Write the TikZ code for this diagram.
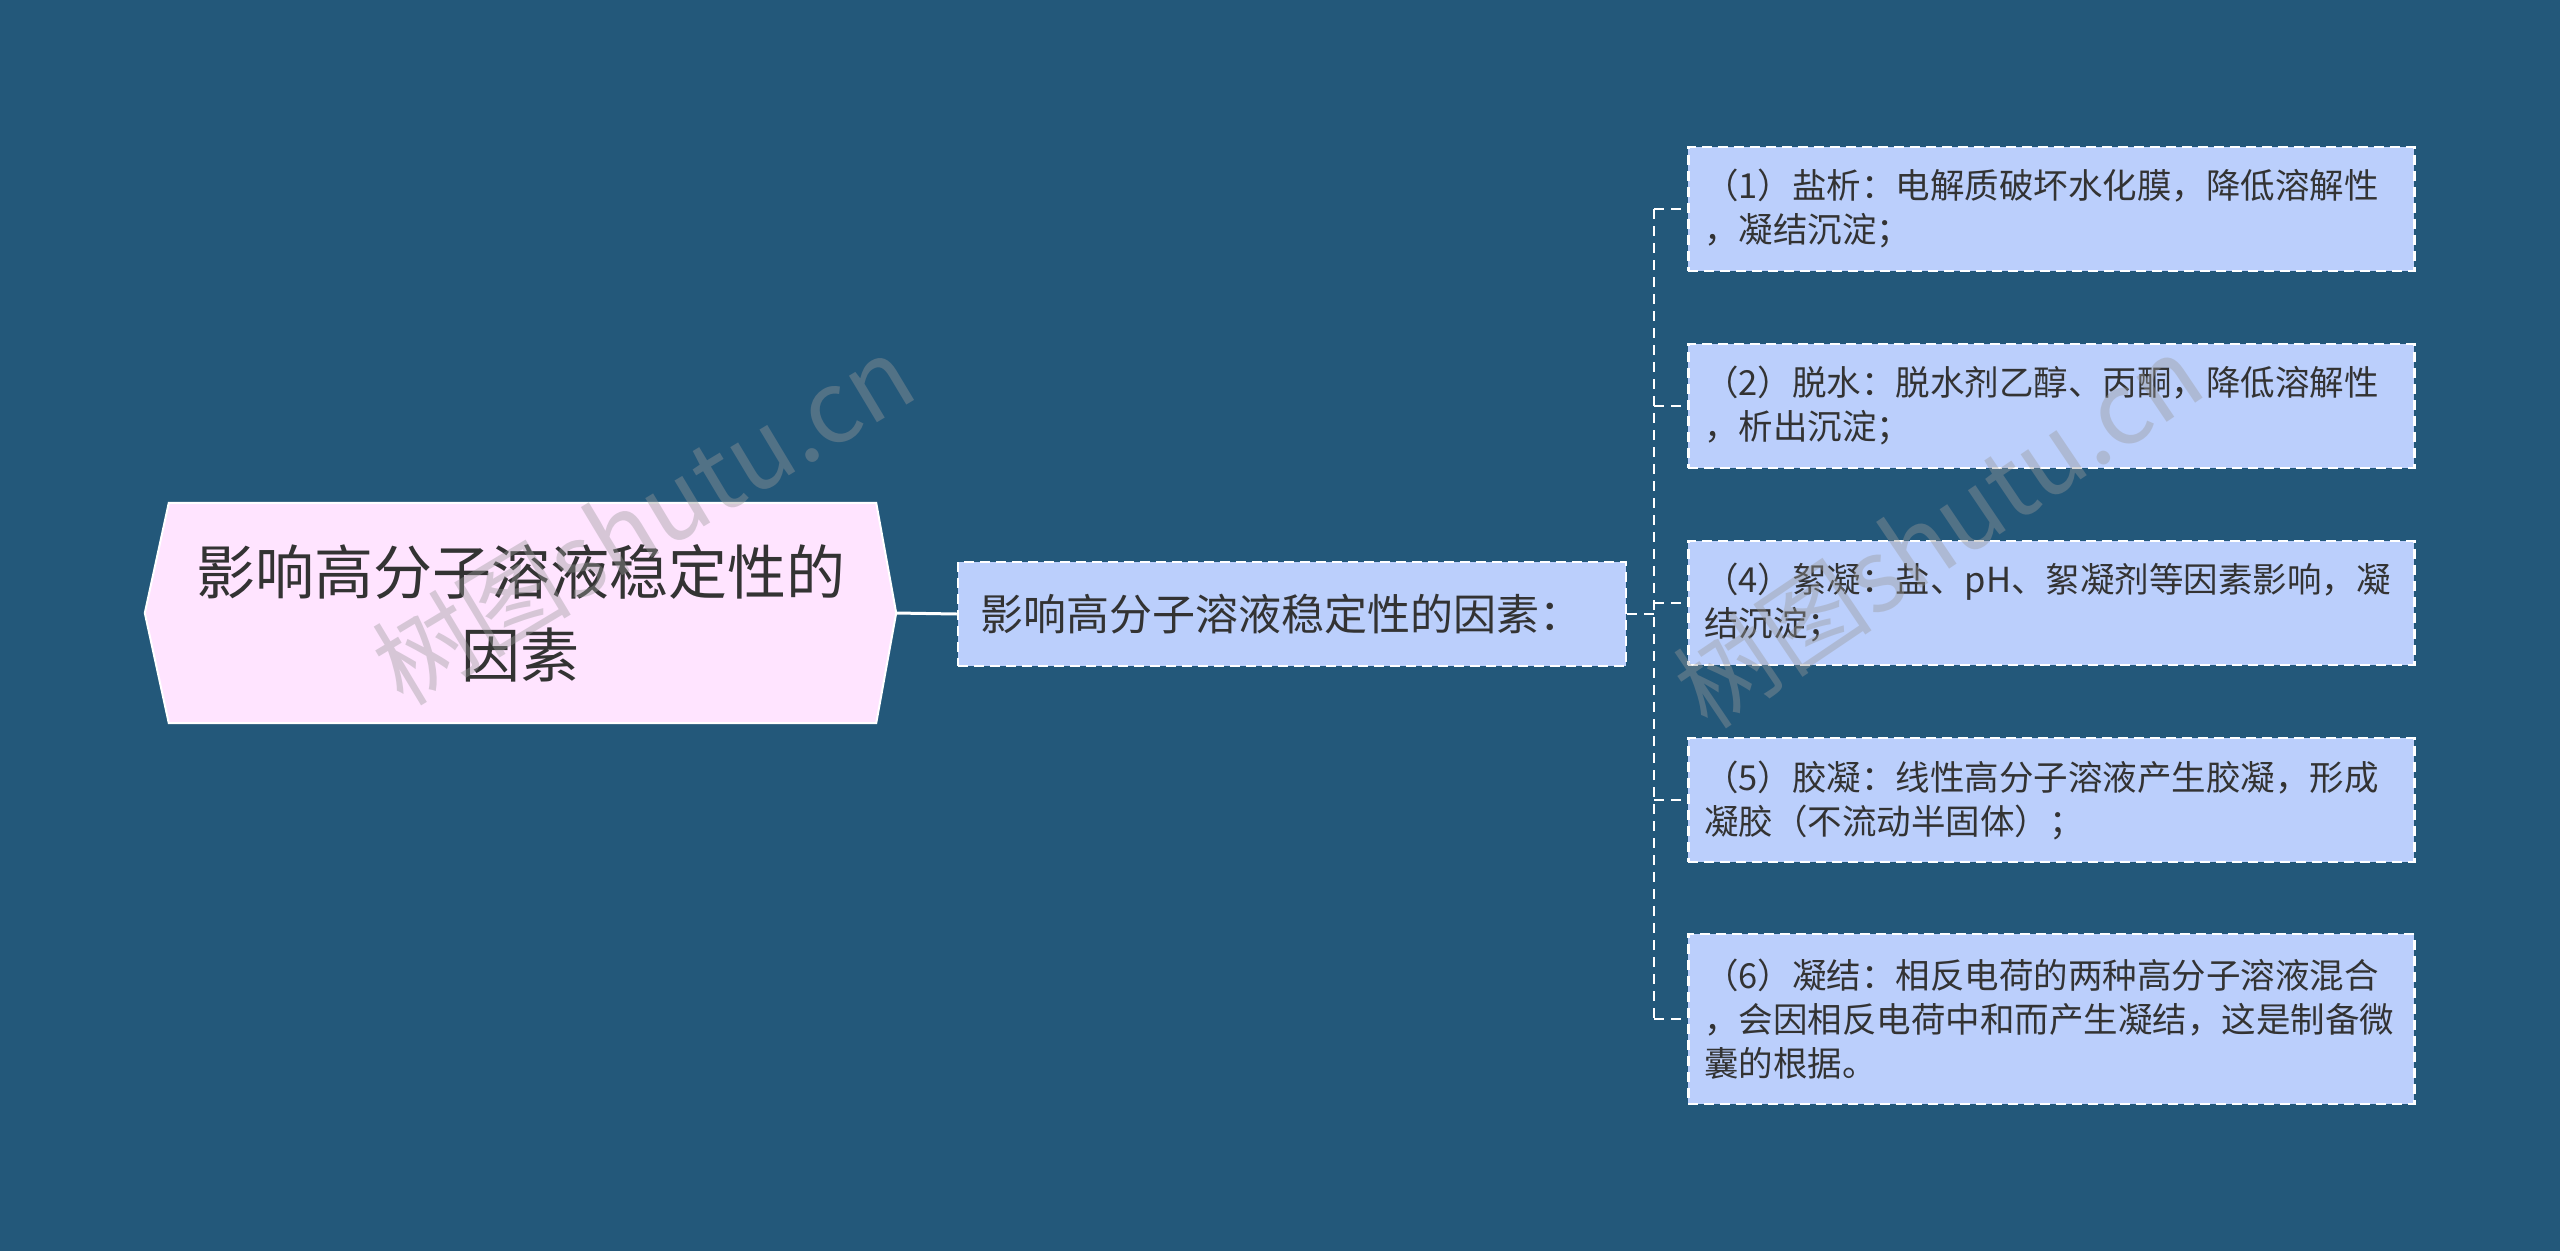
\documentclass[tikz,border=0pt]{standalone}
\usepackage{fontspec}
\setmainfont{Noto Sans CJK SC}
\pgfdeclarelayer{background}
\pgfsetlayers{background,main}
\definecolor{bg}{RGB}{35,88,122}
\definecolor{rootfill}{RGB}{255,228,255}
\definecolor{boxfill}{RGB}{187,207,252}
\definecolor{txt}{RGB}{51,51,51}
\begin{document}
\begin{tikzpicture}[x=1pt,y=-1pt,
  conn/.style={draw=white, line width=2.5pt, dash pattern=on 10pt off 7pt},
  dashbox/.style={draw=white, fill=boxfill, line width=2.5pt, dash pattern=on 10pt off 6pt, text=txt},
  leafbox/.style={dashbox, anchor=west, text width=694pt, inner xsep=16pt, inner ysep=0pt,
    minimum height=124pt, align=left, font=\fontsize{34.5}{44}\selectfont},
  wmark/.style={text=gray!80, opacity=0.4, font=\fontsize{100}{100}\selectfont}]
\begin{pgfonlayer}{background}
\fill[bg] (0,0) rectangle (2560,1251);
\end{pgfonlayer}
\useasboundingbox (0,0) rectangle (2560,1251);

% root
\node[minimum width=751pt, minimum height=220pt, inner sep=0pt, align=center,
  font=\fontsize{59}{83}\selectfont, text=txt] (root) at (520.5,613) {影响高分子溶液稳定性的\\因素};
\begin{pgfonlayer}{background}
\filldraw[fill=rootfill, draw=white, line width=2pt]
  (root.west) -- ([xshift=24pt]root.north west) -- ([xshift=-20pt]root.north east)
  -- (root.east) -- ([xshift=-20pt]root.south east) -- ([xshift=24pt]root.south west) -- cycle;
\end{pgfonlayer}

% middle
\node[dashbox, minimum width=668pt, minimum height=104pt, text width=624pt, inner xsep=22pt,
  inner ysep=0pt, align=left, font=\fontsize{43}{50}\selectfont] (mid) at (1292,614)
  {影响高分子溶液稳定性的因素：};

\draw[white, line width=3pt] (root.east) -- (mid.west);

% leaves
\node[leafbox] (l1) at (1687,209) {（1）盐析：电解质破坏水化膜，降低溶解性\\，凝结沉淀；};
\node[leafbox] (l2) at (1687,406) {（2）脱水：脱水剂乙醇、丙酮，降低溶解性\\，析出沉淀；};
\node[leafbox] (l3) at (1687,603) {（4）絮凝：盐、pH、絮凝剂等因素影响，凝\\结沉淀；};
\node[leafbox] (l4) at (1687,800) {（5）胶凝：线性高分子溶液产生胶凝，形成\\凝胶（不流动半固体）；};
\node[leafbox, minimum height=170pt] (l5) at (1687,1019) {（6）凝结：相反电荷的两种高分子溶液混合\\，会因相反电荷中和而产生凝结，这是制备微\\囊的根据。};

% connectors
\coordinate (tt) at (1654,209);
\coordinate (tb) at (1654,1019);
\draw[conn] (mid.east) -- (tt |- mid.east);
\draw[conn] (tt) -- (tb);
\foreach \n in {l1,l2,l3,l4,l5} {
  \draw[conn] (tt |- \n.west) -- (\n.west);
}

% watermarks
\node[wmark, rotate=31] (wm1) at (643,519) {树图shutu.cn};
\node[wmark, rotate=34] (wm2) at (1938,531) {树图shutu.cn};
\end{tikzpicture}
\end{document}
